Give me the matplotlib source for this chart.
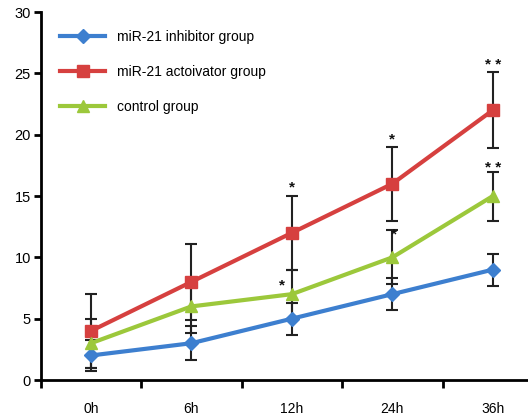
import numpy as np
import matplotlib.pyplot as plt

plt.rcParams['font.family'] = ['Liberation Sans', 'DejaVu Sans']

times = ['0h', '6h', '12h', '24h', '36h']
inhibitor = [2, 3, 5, 7, 9]
inhibitor_err = [1.3, 1.4, 1.3, 1.3, 1.3]
activator = [4, 8, 12, 16, 22]
activator_err = [3, 3.1, 3, 3, 3.1]
control = [3, 6, 7, 10, 15]
control_err = [2, 2.2, 2, 2.2, 2]

# significance marks: (time index, y, text, x offset)
stars = [(2, 15.7, '*', 0.0), (2, 7.7, '*', -0.1), (3, 19.6, '*', 0.0),
         (3, 11.9, '*', 0.02), (4, 25.7, '* *', 0.0), (4, 17.3, '* *', 0.0)]

fig = plt.figure(figsize=(5.28, 4.16), dpi=100)
ax = fig.add_axes([0.077, 0.0865, 0.923, 0.8845])

x = np.arange(len(times))
series = [
    (inhibitor, inhibitor_err, '#3d7fcf', 'D', 7, 'miR-21 inhibitor group'),
    (activator, activator_err, '#d6403f', 's', 9, 'miR-21 actoivator group'),
    (control, control_err, '#9cc83b', '^', 9, 'control group'),
]
for vals, err, col, mk, ms, lab in series:
    ax.errorbar(x, vals, yerr=err, fmt='none', ecolor='#222222', elinewidth=1.5,
                capsize=4, capthick=1.5, zorder=2)
    ax.plot(x, vals, color=col, lw=3, marker=mk, ms=ms, mec=col, mfc=col,
            label=lab, zorder=3)

for i, yv, t, dx in stars:
    ax.text(x[i] + dx, yv, t, ha='center', va='center', fontsize=11, fontweight='bold',
            color='#111111')

ax.set_xlim(-0.5, 4.35)
ax.set_ylim(0, 30)
ax.set_xticks(np.arange(-0.5, 4.5, 1))
ax.set_xticklabels([])
ax.set_xticks(x, minor=True)
ax.set_xticklabels(times, minor=True)
ax.tick_params(axis='x', which='minor', length=0, pad=16, labelsize=10)
ax.tick_params(axis='x', which='major', length=6, width=2)
ax.set_yticks(range(0, 31, 5))
ax.tick_params(axis='y', length=5, width=2, labelsize=10.5, pad=2)
for s in ['top', 'right']:
    ax.spines[s].set_visible(False)
for s in ['left', 'bottom']:
    ax.spines[s].set_linewidth(2)

ax.legend(loc='upper left', bbox_to_anchor=(0.015, 0.985), frameon=False, fontsize=10,
          handlelength=3.2, labelspacing=1.5, handletextpad=0.9)

fig.savefig('out.png', dpi=100)
